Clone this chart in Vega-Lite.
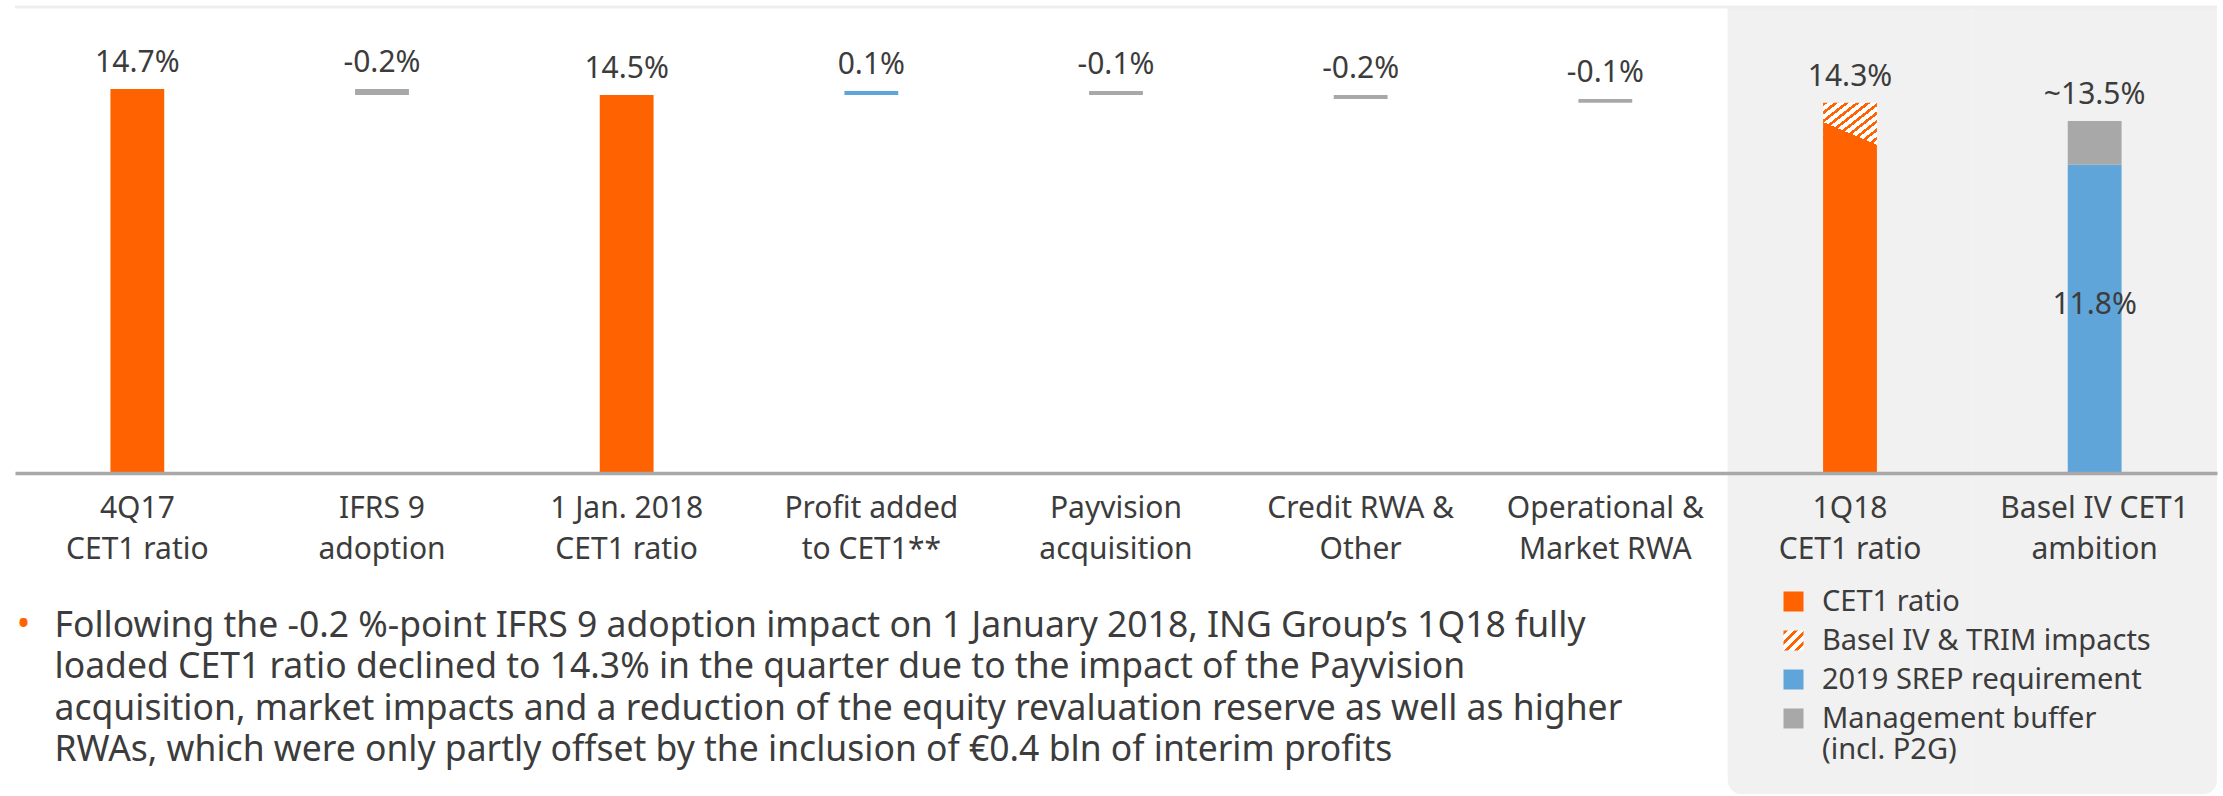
{
  "$schema": "https://vega.github.io/schema/vega-lite/v6.json",
  "autosize": {"type": "none"},
  "padding": {"left": 15, "top": 7, "right": 6, "bottom": 323},
  "width": 2202,
  "height": 466,
  "background": "#ffffff",
  "datasets": {
    "steps": [
      {"cat": "4Q17|CET1 ratio", "start": 0, "end": 14.70, "kind": "CET1 ratio"},
      {"cat": "IFRS 9|adoption", "start": 14.47, "end": 14.70, "kind": "Decrease"},
      {"cat": "1 Jan. 2018|CET1 ratio", "start": 0, "end": 14.47, "kind": "CET1 ratio"},
      {"cat": "Profit added|to CET1**", "start": 14.47, "end": 14.62, "kind": "Increase"},
      {"cat": "Payvision|acquisition", "start": 14.47, "end": 14.62, "kind": "Decrease"},
      {"cat": "Credit RWA &|Other", "start": 14.32, "end": 14.47, "kind": "Decrease"},
      {"cat": "Operational &|Market RWA", "start": 14.17, "end": 14.32, "kind": "Decrease"},
      {"cat": "1Q18|CET1 ratio", "start": 0, "end": 12.56, "kind": "CET1 ratio"},
      {"cat": "Basel IV CET1|ambition", "start": 0, "end": 11.8, "kind": "2019 SREP requirement"},
      {"cat": "Basel IV CET1|ambition", "start": 11.8, "end": 13.48, "kind": "Management buffer (incl. P2G)"}
    ],
    "impacts": [
      {"cat": "1Q18|CET1 ratio", "start": 12.56, "end": 14.17, "kind": "Basel IV & TRIM impacts"}
    ],
    "edge": [
      {"cat": "1Q18|CET1 ratio", "start": 12.56, "end": 13.44}
    ],
    "labels": [
      {"cat": "4Q17|CET1 ratio", "top": 14.70, "text": "14.7%"},
      {"cat": "IFRS 9|adoption", "top": 14.70, "text": "-0.2%"},
      {"cat": "1 Jan. 2018|CET1 ratio", "top": 14.47, "text": "14.5%"},
      {"cat": "Profit added|to CET1**", "top": 14.62, "text": "0.1%"},
      {"cat": "Payvision|acquisition", "top": 14.62, "text": "-0.1%"},
      {"cat": "Credit RWA &|Other", "top": 14.47, "text": "-0.2%"},
      {"cat": "Operational &|Market RWA", "top": 14.32, "text": "-0.1%"},
      {"cat": "1Q18|CET1 ratio", "top": 14.17, "text": "14.3%"},
      {"cat": "Basel IV CET1|ambition", "top": 13.48, "text": "~13.5%"}
    ],
    "inner": [
      {"cat": "Basel IV CET1|ambition", "at": 6.43, "text": "11.8%"}
    ],
    "panelLeft": [{"cat": "1Q18|CET1 ratio"}],
    "panelRight": [{"cat": "Basel IV CET1|ambition"}]
  },
  "layer": [
    {
      "data": {"name": "panelLeft"},
      "mark": {"type": "rect", "color": "#f1f1f1", "cornerRadiusBottomLeft": 14},
      "encoding": {
        "x": {"field": "cat", "type": "nominal", "scale": {"domain": ["4Q17|CET1 ratio", "IFRS 9|adoption", "1 Jan. 2018|CET1 ratio", "Profit added|to CET1**", "Payvision|acquisition", "Credit RWA &|Other", "Operational &|Market RWA", "1Q18|CET1 ratio", "Basel IV CET1|ambition"], "paddingInner": 0, "paddingOuter": 0}},
        "y": {"datum": 17.84, "type": "quantitative", "scale": {"domain": [0, 17.84], "nice": false, "zero": false}, "title": "•"},
        "y2": {"datum": -12.3}
      }
    },
    {
      "data": {"name": "panelRight"},
      "mark": {"type": "rect", "color": "#f1f1f1", "cornerRadiusBottomRight": 14},
      "encoding": {
        "x": {"field": "cat", "type": "nominal", "scale": {"domain": ["4Q17|CET1 ratio", "IFRS 9|adoption", "1 Jan. 2018|CET1 ratio", "Profit added|to CET1**", "Payvision|acquisition", "Credit RWA &|Other", "Operational &|Market RWA", "1Q18|CET1 ratio", "Basel IV CET1|ambition"], "paddingInner": 0, "paddingOuter": 0}},
        "y": {"datum": 17.84, "type": "quantitative", "scale": {"domain": [0, 17.84], "nice": false, "zero": false}, "title": "•"},
        "y2": {"datum": -12.3}
      }
    },
    {
      "data": {"values": [{}]},
      "mark": {"type": "rule", "color": "#eeeeee", "strokeWidth": 3},
      "encoding": {
        "y": {"datum": 17.84, "type": "quantitative", "scale": {"domain": [0, 17.84], "nice": false, "zero": false}, "title": "•"}
      }
    },
    {
      "data": {"name": "steps"},
      "mark": {"type": "bar", "width": {"band": 0.22}},
      "encoding": {
        "x": {
          "field": "cat", "type": "nominal",
          "scale": {"domain": ["4Q17|CET1 ratio", "IFRS 9|adoption", "1 Jan. 2018|CET1 ratio", "Profit added|to CET1**", "Payvision|acquisition", "Credit RWA &|Other", "Operational &|Market RWA", "1Q18|CET1 ratio", "Basel IV CET1|ambition"], "paddingInner": 0, "paddingOuter": 0},
          "axis": {
            "title": ["Following the -0.2 %-point IFRS 9 adoption impact on 1 January 2018, ING Group’s 1Q18 fully", "loaded CET1 ratio declined to 14.3% in the quarter due to the impact of the Payvision", "acquisition, market impacts and a reduction of the equity revaluation reserve as well as higher", "RWAs, which were only partly offset by the inclusion of €0.4 bln of interim profits"],
            "labelExpr": "split(datum.label, '|')",
            "zindex": 1
          }
        },
        "y": {"field": "start", "type": "quantitative", "scale": {"domain": [0, 17.84], "nice": false, "zero": false}, "title": "•"},
        "y2": {"field": "end"},
        "color": {
          "field": "kind", "type": "nominal",
          "scale": {
            "domain": ["CET1 ratio", "Basel IV & TRIM impacts", "2019 SREP requirement", "Management buffer (incl. P2G)", "Increase", "Decrease"],
            "range": ["#ff6200",
              {"expr": "{gradient: 'linear', x1: 0, y1: 0, x2: 1, y2: 1, stops: [{offset: 0, color: '#ff6200'}, {offset: 0.1, color: '#ff6200'}, {offset: 0.1, color: '#ffffff'}, {offset: 0.25, color: '#ffffff'}, {offset: 0.25, color: '#ff6200'}, {offset: 0.35, color: '#ff6200'}, {offset: 0.35, color: '#ffffff'}, {offset: 0.5, color: '#ffffff'}, {offset: 0.5, color: '#ff6200'}, {offset: 0.6, color: '#ff6200'}, {offset: 0.6, color: '#ffffff'}, {offset: 0.75, color: '#ffffff'}, {offset: 0.75, color: '#ff6200'}, {offset: 0.85, color: '#ff6200'}, {offset: 0.85, color: '#ffffff'}, {offset: 1, color: '#ffffff'}]}"},
              "#60a5da", "#a8a8a8", "#60a5da", "#a8a8a8"]
          },
          "legend": {
            "orient": "none", "legendX": 1764, "legendY": 580,
            "values": ["CET1 ratio", "Basel IV & TRIM impacts", "2019 SREP requirement", "Management buffer (incl. P2G)"],
            "title": null, "padding": 0,
            "symbolType": "square", "symbolSize": 400, "symbolStrokeWidth": 0, "symbolOpacity": 1,
            "labelFont": "Noto Sans", "labelFontSize": 29, "labelColor": "#3c3c3c", "labelOffset": 14, "labelLimit": 600,
            "rowPadding": 9,
            "labelExpr": "datum.label == 'Management buffer (incl. P2G)' ? ['Management buffer', '(incl. P2G)'] : datum.label"
          }
        }
      }
    },
    {
      "data": {"name": "impacts"},
      "mark": {"type": "bar", "width": {"band": 0.22},
        "fill": {"gradient": "linear", "x1": 0, "y1": 0, "x2": 1, "y2": 1, "stops": [
          {"offset": 0, "color": "#ff6200"}, {"offset": 0.04, "color": "#ff6200"}, {"offset": 0.04, "color": "#ffffff"}, {"offset": 0.1, "color": "#ffffff"},
          {"offset": 0.1, "color": "#ff6200"}, {"offset": 0.14, "color": "#ff6200"}, {"offset": 0.14, "color": "#ffffff"}, {"offset": 0.2, "color": "#ffffff"},
          {"offset": 0.2, "color": "#ff6200"}, {"offset": 0.24, "color": "#ff6200"}, {"offset": 0.24, "color": "#ffffff"}, {"offset": 0.3, "color": "#ffffff"},
          {"offset": 0.3, "color": "#ff6200"}, {"offset": 0.34, "color": "#ff6200"}, {"offset": 0.34, "color": "#ffffff"}, {"offset": 0.4, "color": "#ffffff"},
          {"offset": 0.4, "color": "#ff6200"}, {"offset": 0.44, "color": "#ff6200"}, {"offset": 0.44, "color": "#ffffff"}, {"offset": 0.5, "color": "#ffffff"},
          {"offset": 0.5, "color": "#ff6200"}, {"offset": 0.54, "color": "#ff6200"}, {"offset": 0.54, "color": "#ffffff"}, {"offset": 0.6, "color": "#ffffff"},
          {"offset": 0.6, "color": "#ff6200"}, {"offset": 0.64, "color": "#ff6200"}, {"offset": 0.64, "color": "#ffffff"}, {"offset": 0.7, "color": "#ffffff"},
          {"offset": 0.7, "color": "#ff6200"}, {"offset": 0.74, "color": "#ff6200"}, {"offset": 0.74, "color": "#ffffff"}, {"offset": 0.8, "color": "#ffffff"},
          {"offset": 0.8, "color": "#ff6200"}, {"offset": 0.84, "color": "#ff6200"}, {"offset": 0.84, "color": "#ffffff"}, {"offset": 0.9, "color": "#ffffff"},
          {"offset": 0.9, "color": "#ff6200"}, {"offset": 0.94, "color": "#ff6200"}, {"offset": 0.94, "color": "#ffffff"}, {"offset": 1, "color": "#ffffff"}]}
      },
      "encoding": {
        "x": {"field": "cat", "type": "nominal", "scale": {"domain": ["4Q17|CET1 ratio", "IFRS 9|adoption", "1 Jan. 2018|CET1 ratio", "Profit added|to CET1**", "Payvision|acquisition", "Credit RWA &|Other", "Operational &|Market RWA", "1Q18|CET1 ratio", "Basel IV CET1|ambition"], "paddingInner": 0, "paddingOuter": 0}},
        "y": {"field": "start", "type": "quantitative", "scale": {"domain": [0, 17.84], "nice": false, "zero": false}, "title": "•"},
        "y2": {"field": "end"}
      }
    },
    {
      "data": {"name": "edge"},
      "mark": {"type": "bar", "width": {"band": 0.22},
        "fill": {"gradient": "linear", "x1": 1, "y1": 0, "x2": 0, "y2": 1, "stops": [
          {"offset": 0, "color": "rgba(255,98,0,0)"}, {"offset": 0.5, "color": "rgba(255,98,0,0)"},
          {"offset": 0.5, "color": "#ff6200"}, {"offset": 1, "color": "#ff6200"}]}
      },
      "encoding": {
        "x": {"field": "cat", "type": "nominal", "scale": {"domain": ["4Q17|CET1 ratio", "IFRS 9|adoption", "1 Jan. 2018|CET1 ratio", "Profit added|to CET1**", "Payvision|acquisition", "Credit RWA &|Other", "Operational &|Market RWA", "1Q18|CET1 ratio", "Basel IV CET1|ambition"], "paddingInner": 0, "paddingOuter": 0}},
        "y": {"field": "start", "type": "quantitative", "scale": {"domain": [0, 17.84], "nice": false, "zero": false}, "title": "•"},
        "y2": {"field": "end"}
      }
    },
    {
      "data": {"name": "labels"},
      "mark": {"type": "text", "baseline": "alphabetic", "dy": -17, "font": "Noto Sans", "fontSize": 30, "color": "#3c3c3c"},
      "encoding": {
        "x": {"field": "cat", "type": "nominal", "scale": {"domain": ["4Q17|CET1 ratio", "IFRS 9|adoption", "1 Jan. 2018|CET1 ratio", "Profit added|to CET1**", "Payvision|acquisition", "Credit RWA &|Other", "Operational &|Market RWA", "1Q18|CET1 ratio", "Basel IV CET1|ambition"], "paddingInner": 0, "paddingOuter": 0}},
        "y": {"field": "top", "type": "quantitative", "scale": {"domain": [0, 17.84], "nice": false, "zero": false}, "title": "•"},
        "text": {"field": "text"}
      }
    },
    {
      "data": {"name": "inner"},
      "mark": {"type": "text", "baseline": "middle", "font": "Noto Sans", "fontSize": 30, "color": "#3c3c3c"},
      "encoding": {
        "x": {"field": "cat", "type": "nominal", "scale": {"domain": ["4Q17|CET1 ratio", "IFRS 9|adoption", "1 Jan. 2018|CET1 ratio", "Profit added|to CET1**", "Payvision|acquisition", "Credit RWA &|Other", "Operational &|Market RWA", "1Q18|CET1 ratio", "Basel IV CET1|ambition"], "paddingInner": 0, "paddingOuter": 0}},
        "y": {"field": "at", "type": "quantitative", "scale": {"domain": [0, 17.84], "nice": false, "zero": false}, "title": "•"},
        "text": {"field": "text"}
      }
    }
  ],
  "config": {
    "view": {"stroke": null},
    "font": "Noto Sans",
    "axisX": {
      "labelFont": "Noto Sans", "labelFontSize": 30, "labelColor": "#3c3c3c", "labelLineHeight": 41,
      "labelPadding": 20, "labelAngle": 0, "labelBaseline": "top", "labelLimit": 400, "labelOverlap": false,
      "ticks": false, "tickSize": 0, "domainColor": "#a8a8a8", "domainWidth": 3.5, "grid": false,
      "titleX": 39, "titleY": 135, "titleAlign": "left", "titleAnchor": "start", "titleBaseline": "top",
      "titleFont": "Noto Sans", "titleFontSize": 35.5, "titleFontWeight": "normal", "titleColor": "#3c3c3c", "titleLineHeight": 41.5
    },
    "axisY": {
      "labels": false, "ticks": false, "domain": false, "grid": false,
      "titleColor": "#ff6200", "titleAngle": 0, "titleX": 8, "titleY": 617, "titleAlign": "center", "titleBaseline": "middle",
      "titleFont": "Noto Sans", "titleFontSize": 36, "titleFontWeight": "normal"
    }
  }
}
